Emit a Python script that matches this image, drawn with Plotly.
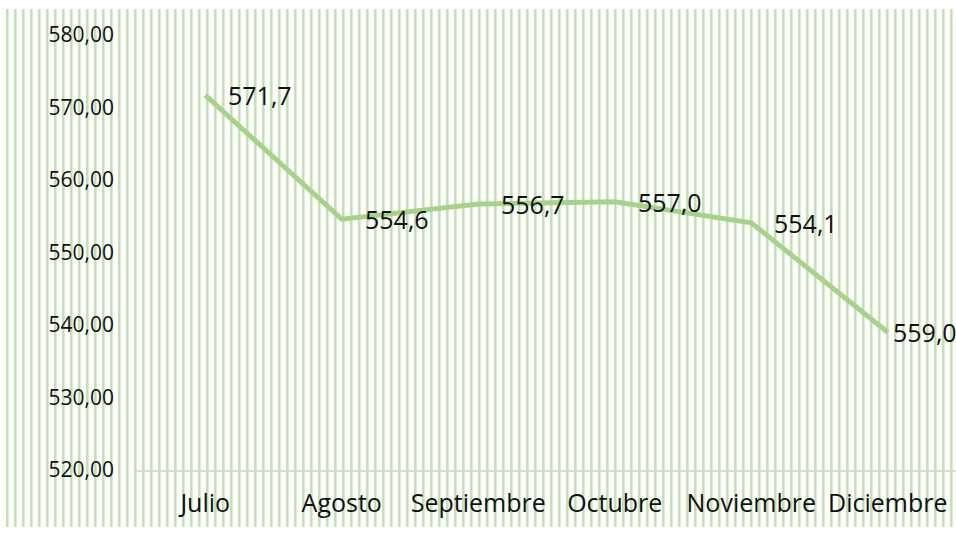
import plotly.graph_objects as go

months = ["Julio", "Agosto", "Septiembre", "Octubre", "Noviembre", "Diciembre"]
values = [571.7, 554.6, 556.7, 557.0, 554.1, 539.0]
value_labels = ["571,7", "554,6", "556,7", "557,0", "554,1", "559,0"]
y_tickvals = [520, 530, 540, 550, 560, 570, 580]
y_ticktext = ["520,00", "530,00", "540,00", "550,00", "560,00", "570,00", "580,00"]

W, H = 956, 533
ML, MR, MT, MB = 137, 0, 35, 63
PW, PH = W - ML - MR, H - MT - MB

def px2x(px):
    return (px - ML) / PW

def py2y(py):
    return (H - MB - py) / PH

# striped background (decoration)
segs = []
for k in range(119):
    x0 = px2x(6 + 8 * k)
    x1 = px2x(8.6 + 8 * k)
    y0 = py2y(9)
    y1 = py2y(527)
    segs.append(f"M{x0:.5f},{y0:.5f} H{x1:.5f} V{y1:.5f} H{x0:.5f} Z")
stripe_path = " ".join(segs)

font_family = "Open Sans, Noto Sans, sans-serif"

fig = go.Figure()
fig.add_trace(go.Scatter(
    x=months, y=values, mode="lines",
    line=dict(color="#a9d18e", width=5),
    hoverinfo="skip", showlegend=False,
))

n = len(months)
for i, (m, v, t) in enumerate(zip(months, values, value_labels)):
    fig.add_annotation(x=m, y=v, text=t, showarrow=False, xanchor="left",
                       yanchor="middle", xshift=(3 if i == n - 1 else 21),
                       font=dict(family=font_family, size=25, color="#111111"))

fig.add_shape(type="path", path=stripe_path, xref="paper", yref="paper",
              fillcolor="#c5e0b4", line=dict(width=0), layer="below")

fig.update_layout(
    width=W, height=H,
    margin=dict(l=ML, r=MR, t=MT, b=MB, pad=0),
    paper_bgcolor="white", plot_bgcolor="rgba(0,0,0,0)",
    showlegend=False,
    font=dict(family=font_family, color="#111111"),
    xaxis=dict(
        type="category", range=[-0.5, 5.5], showgrid=False, zeroline=False,
        showline=True, linecolor="#d9d9d9", linewidth=2,
        ticks="", tickfont=dict(size=25, color="#111111"),
        ticklabelstandoff=10, fixedrange=True,
    ),
    yaxis=dict(
        range=[520, 580], showgrid=False, zeroline=False, showline=False,
        tickvals=y_tickvals, ticktext=y_ticktext, ticks="",
        tickfont=dict(size=21, color="#111111"),
        ticklabelstandoff=22, fixedrange=True,
    ),
)

fig.write_html(
    "out.html",
    config={"displayModeBar": False},
    post_script="document.body.style.margin='0';document.body.style.overflow='hidden';",
)
